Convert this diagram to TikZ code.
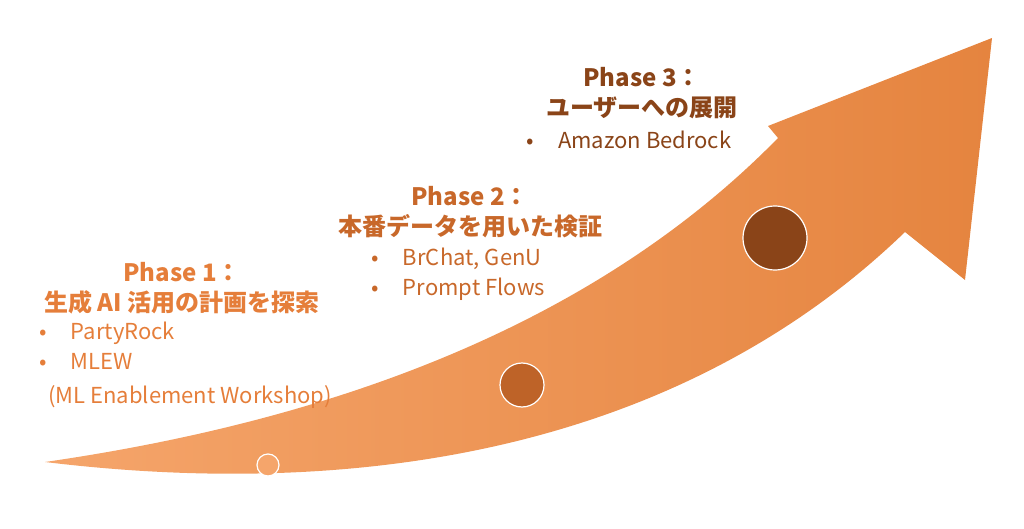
\documentclass[tikz,border=0pt]{standalone}
\usepackage{fontspec}
\setmainfont{Noto Sans CJK JP}
\definecolor{ph1}{HTML}{E57E3A}
\definecolor{ph2}{HTML}{C8682A}
\definecolor{ph3}{HTML}{8A4418}
\definecolor{arrowL}{HTML}{F5A56B}
\definecolor{arrowR}{HTML}{E5843F}
\begin{document}
\begin{tikzpicture}[x=1pt,y=-1pt,
  dot/.style={circle,draw=white,line width=1.2pt,inner sep=0pt},
  ttl/.style={font=\bfseries\fontsize{24}{30}\selectfont,align=center},
  itm/.style={font=\fontsize{22}{30}\selectfont,align=left}]
\useasboundingbox (0,0) rectangle (1024,529);
\shade[left color=arrowL,right color=arrowR]
  (45,462) .. controls (300,425) and (580,340) .. (778,138)
  -- (768,126) -- (992,38) -- (965,280) -- (905,232)
  .. controls (700,430) and (400,505) .. (45,462) -- cycle;
\node[dot,fill=arrowL,minimum size=22pt] (c1) at (268,465) {};
\node[dot,fill=ph2!95!black,minimum size=44pt] (c2) at (522,385) {};
\node[dot,fill=ph3,minimum size=64pt] (c3) at (775,238) {};
\node[ttl,text=ph1] (t1) at (182,288) {Phase 1：\\生成 AI 活用の計画を探索};
\node[itm,text=ph1,anchor=north west] (i1) at (36,318) {•\hspace{24pt}PartyRock\\•\hspace{24pt}MLEW};
\node[itm,text=ph1] (i1b) at (190,397) {(ML Enablement Workshop)};
\node[ttl,text=ph2] (t2) at (470,212) {Phase 2：\\本番データを用いた検証};
\node[itm,text=ph2,anchor=north west] (i2) at (368,244) {•\hspace{24pt}BrChat, GenU\\•\hspace{24pt}Prompt Flows};
\node[ttl,text=ph3] (t3) at (642,93) {Phase 3：\\ユーザーへの展開};
\node[itm,text=ph3,anchor=north west] (i3) at (523,127) {•\hspace{24pt}Amazon Bedrock};
\end{tikzpicture}
\end{document}
